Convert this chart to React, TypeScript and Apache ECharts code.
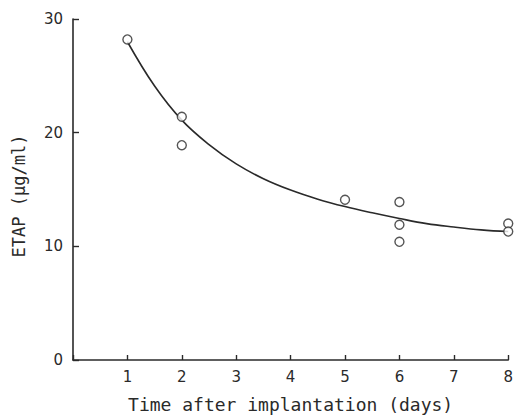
import React, { useEffect, useRef } from "react";
import * as echarts from "echarts";

// Observed ETAP concentrations (days, µg/ml)
const obsDays = [1, 2, 2, 5, 6, 6, 6, 8, 8];
const obsEtap = [28.2, 21.4, 18.9, 14.1, 13.9, 11.9, 10.4, 12.0, 11.3];

// Fitted curve
const curveDays = [1, 1.5, 2, 2.5, 3, 3.5, 4, 4.5, 5, 5.5, 6, 6.5, 7, 7.5, 8];
const curveEtap = [28.0, 24.1, 21.1, 18.95, 17.25, 15.95, 14.95, 14.15, 13.5, 12.95, 12.45, 12.0, 11.7, 11.45, 11.3];

const xTicks = [0, 1, 2, 3, 4, 5, 6, 7, 8];
const yTicks = [0, 10, 20, 30];

const xName = "Time after implantation (days)";
const yName = "ETAP (µg/ml)";

export default function App() {
  const ref = useRef<HTMLDivElement>(null);
  useEffect(() => {
    if (!ref.current) return;
    const chart = echarts.init(ref.current, null, { renderer: "svg" });
    const ink = "#2a2a2a";
    const font = "DejaVu Sans";
    const mono = "DejaVu Sans Mono";
    chart.setOption({
      animation: false,
      backgroundColor: "#ffffff",
      grid: { left: 73, right: 5, top: 19, bottom: 59, containLabel: false },
      xAxis: {
        type: "value",
        min: xTicks[0],
        max: xTicks[xTicks.length - 1],
        interval: 1,
        name: xName,
        nameLocation: "middle",
        nameGap: 35,
        nameTextStyle: { fontFamily: mono, fontSize: 18, color: ink },
        axisLine: { lineStyle: { color: ink, width: 1.6 } },
        axisTick: { show: true, inside: true, length: 5, lineStyle: { color: ink, width: 1.4 } },
        axisLabel: {
          margin: 9,
          fontFamily: font,
          fontSize: 15,
          color: ink,
          formatter: (v: number) => (v === 0 ? "" : String(v)),
        },
        splitLine: { show: false },
      },
      yAxis: {
        type: "value",
        min: yTicks[0],
        max: yTicks[yTicks.length - 1],
        interval: 10,
        name: yName,
        nameLocation: "middle",
        nameGap: 46,
        nameTextStyle: { fontFamily: mono, fontSize: 17, color: ink, padding: [0, 13, 0, 0] },
        axisLine: { show: true, lineStyle: { color: ink, width: 1.6 } },
        axisTick: { show: true, inside: true, length: 6, lineStyle: { color: ink, width: 1.4 } },
        axisLabel: { margin: 10, fontFamily: font, fontSize: 15, color: ink },
        splitLine: { show: false },
      },
      series: [
        {
          type: "line",
          data: curveDays.map((d, i) => [d, curveEtap[i]]),
          smooth: 0.4,
          showSymbol: false,
          lineStyle: { color: ink, width: 1.6 },
          z: 2,
        },
        {
          type: "scatter",
          data: obsDays.map((d, i) => [d, obsEtap[i]]),
          symbol: "circle",
          symbolSize: 9,
          itemStyle: { color: "#ffffff", borderColor: ink, borderWidth: 1.4 },
          z: 3,
        },
      ],
    });
    return () => chart.dispose();
  }, []);
  return (
    <div
      ref={ref}
      style={{ position: "fixed", left: 0, top: 0, width: 516, height: 419, background: "#fff" }}
    />
  );
}
